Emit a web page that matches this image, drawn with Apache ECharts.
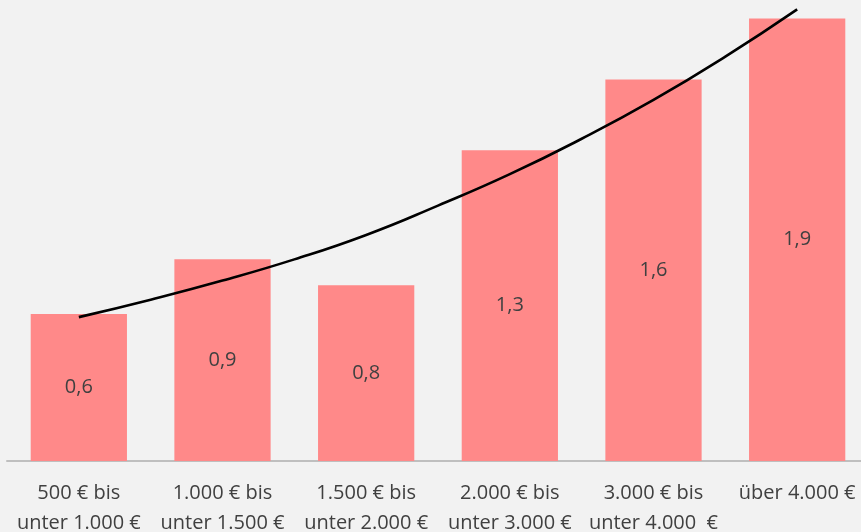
<!DOCTYPE html>
<html>
<head>
<meta charset="utf-8">
<script src="https://cdn.jsdelivr.net/npm/echarts@6/dist/echarts.min.js"></script>
<style>
  html, body { margin: 0; padding: 0; background: #f2f2f2; }
  #chart { width: 861px; height: 532px; }
</style>
</head>
<body>
<div id="chart"></div>
<script>
// categories (two-line labels)
const categories = [
  '500 € bis\nunter 1.000 €',
  '1.000 € bis\nunter 1.500 €',
  '1.500 € bis\nunter 2.000 €',
  '2.000 € bis\nunter 3.000 €',
  '3.000 € bis\nunter 4.000  €',
  'über 4.000 €'
];
// bar heights
const values = [0.631, 0.867, 0.755, 1.335, 1.639, 1.901];
// labels shown inside bars
const valueLabels = ['0,6', '0,9', '0,8', '1,3', '1,6', '1,9'];
// trend curve (x in slot units: 0.5 = centre of first bar)
const trendX = [0.5, 1, 1.5, 2, 2.5, 3, 3.5, 4, 4.5, 5, 5.5];
const trendY = [0.618, 0.693, 0.775, 0.866, 0.971, 1.097, 1.232, 1.384, 1.551, 1.737, 1.940];

const chart = echarts.init(document.getElementById('chart'));
chart.setOption({
  backgroundColor: '#f2f2f2',
  animation: false,
  grid: { left: 7, top: 0, width: 862, height: 461, outerBoundsMode: 'none', containLabel: false },
  xAxis: [
    {
      type: 'category',
      data: categories,
      axisLine: { lineStyle: { color: '#bfbfbf', width: 2 } },
      axisTick: { show: false },
      axisLabel: {
        interval: 0,
        margin: 17,
        color: '#404040',
        fontFamily: 'Open Sans',
        fontSize: 20,
        lineHeight: 30
      }
    },
    { type: 'value', min: 0, max: categories.length, show: false }
  ],
  yAxis: {
    type: 'value',
    min: 0,
    max: 1.98,
    show: false,
    splitLine: { show: false }
  },
  series: [
    {
      type: 'bar',
      data: values,
      barWidth: '67%',
      itemStyle: { color: '#ff8989' },
      label: {
        show: true,
        position: 'inside',
        color: '#404040',
        fontFamily: 'Open Sans',
        fontSize: 20,
        formatter: p => valueLabels[p.dataIndex]
      }
    },
    {
      type: 'line',
      xAxisIndex: 1,
      data: trendX.map((x, i) => [x, trendY[i]]),
      smooth: true,
      symbol: 'none',
      lineStyle: { color: '#000', width: 2.6 },
      z: 5
    }
  ]
});
</script>
</body>
</html>
